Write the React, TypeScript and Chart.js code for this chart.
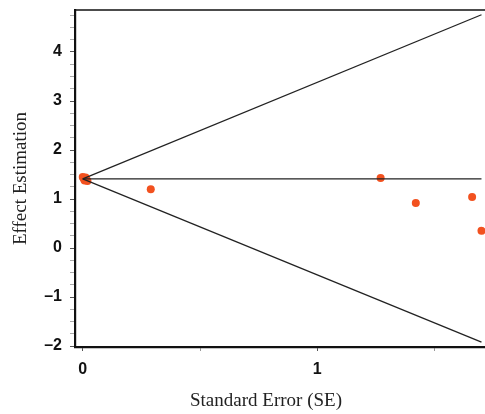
import React, { useEffect, useRef } from "react";
import { Chart, registerables } from "chart.js";

Chart.register(...registerables);

// Study points: standard error (x) and effect estimate (y)
const studySE = [0.0, 0.004, 0.008, 0.012, 0.016, 0.02, 0.29, 1.27, 1.42, 1.66, 1.70];
const studyEffect = [1.45, 1.42, 1.38, 1.44, 1.40, 1.37, 1.20, 1.43, 0.92, 1.04, 0.35];

// Funnel lines
const pooledEffect = 1.41;
const funnelSE = [0, 1.70];
const upperBound = [1.41, 4.76];
const lowerBound = [1.41, -1.92];
const pooledLineSE = [0, 1.70];

const xMajorTicks = [0, 1];
const yMajorTicks = [-2, -1, 0, 1, 2, 3, 4];

const xTitle = "Standard Error (SE)";
const yTitle = "Effect Estimation";

export default function App() {
  const ref = useRef<HTMLCanvasElement | null>(null);

  useEffect(() => {
    if (!ref.current) return;

    const frame = {
      id: "frame",
      afterDraw(chart: any) {
        const { ctx, chartArea } = chart;
        ctx.save();
        ctx.strokeStyle = "#111";
        ctx.lineWidth = 1.6;
        ctx.beginPath();
        ctx.moveTo(chartArea.left, chartArea.top);
        ctx.lineTo(chartArea.right, chartArea.top);
        ctx.stroke();
        ctx.fillStyle = "#222";
        ctx.font = "19px 'Liberation Serif', 'Times New Roman', serif";
        ctx.textAlign = "center";
        ctx.textBaseline = "middle";
        ctx.fillText(xTitle, 266, 401);
        ctx.restore();
      },
    };

    const chart = new Chart(ref.current, {
      type: "scatter",
      data: {
        datasets: [
          {
            type: "line",
            data: funnelSE.map((x, i) => ({ x, y: upperBound[i] })),
            borderColor: "#222",
            borderWidth: 1.3,
            pointRadius: 0,
          },
          {
            type: "line",
            data: funnelSE.map((x, i) => ({ x, y: lowerBound[i] })),
            borderColor: "#222",
            borderWidth: 1.3,
            pointRadius: 0,
          },
          {
            type: "line",
            data: pooledLineSE.map((x) => ({ x, y: pooledEffect })),
            borderColor: "#222",
            borderWidth: 1.3,
            pointRadius: 0,
          },
          {
            data: studySE.map((x, i) => ({ x, y: studyEffect[i] })),
            backgroundColor: "#f2511f",
            borderColor: "#f2511f",
            borderWidth: 0,
            pointRadius: 4,
          },
        ],
      },
      options: {
        animation: false,
        responsive: false,
        layout: { autoPadding: false, padding: { top: 10, right: 0, bottom: 0, left: 0 } },
        plugins: { legend: { display: false }, tooltip: { enabled: false } },
        scales: {
          x: {
            type: "linear",
            min: -0.033,
            max: 1.715,
            afterFit: (s: any) => {
              s.height = 67;
              s.paddingLeft = 0;
              s.paddingRight = 0;
            },
            afterBuildTicks: (s: any) => {
              s.ticks = [0, 0.5, 1, 1.5].map((v) => ({ value: v }));
            },
            border: { display: true, color: "#111", width: 2.2 },
            grid: {
              drawOnChartArea: false,
              drawTicks: true,
              tickLength: 4,
              tickColor: (c: any) => (xMajorTicks.includes(c.tick?.value) ? "#555" : "#999"),
            },
            ticks: {
              padding: 9,
              color: "#111",
              font: { family: "'Liberation Sans', Arial, sans-serif", size: 16, weight: "bold" },
              callback: (v: any) => (xMajorTicks.includes(Number(v)) ? String(v) : ""),
              maxRotation: 0,
              autoSkip: false,
            },
          },
          y: {
            type: "linear",
            min: -2.02,
            max: 4.857,
            afterFit: (s: any) => {
              s.width = 75;
              s.paddingTop = 0;
              s.paddingBottom = 0;
            },
            afterBuildTicks: (s: any) => {
              const t = [];
              for (let i = -8; i <= 19; i++) t.push({ value: i / 4 });
              s.ticks = t;
            },
            border: { display: true, color: "#111", width: 2.2 },
            grid: {
              drawOnChartArea: false,
              drawTicks: true,
              tickLength: 5,
              tickColor: (c: any) => (yMajorTicks.includes(c.tick?.value) ? "#555" : "#aaa"),
            },
            ticks: {
              padding: 8,
              color: "#111",
              font: { family: "'Liberation Sans', Arial, sans-serif", size: 16, weight: "bold" },
              callback: (v: any) => {
                const n = Number(v);
                if (!yMajorTicks.includes(n)) return "";
                return n < 0 ? "\u2013" + Math.abs(n) : String(n);
              },
              autoSkip: false,
            },
            title: {
              display: true,
              text: yTitle,
              color: "#222",
              font: { family: "'Liberation Serif', 'Times New Roman', serif", size: 19, weight: "normal" },
              padding: { top: 10, bottom: 0 },
            },
          },
        },
      },
      plugins: [frame],
    } as any);

    return () => chart.destroy();
  }, []);

  return (
    <div style={{ position: "fixed", left: 0, top: 0, width: 485, height: 414, background: "#fff" }}>
      <canvas ref={ref} width={485} height={414} style={{ display: "block" }} />
    </div>
  );
}
